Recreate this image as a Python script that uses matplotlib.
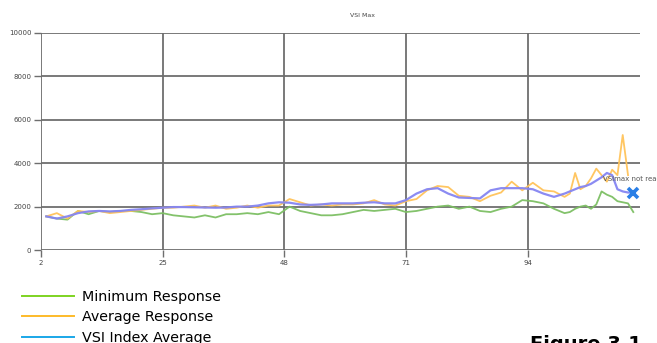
import numpy as np
import matplotlib
matplotlib.use("Agg")
import matplotlib.pyplot as plt
from matplotlib.lines import Line2D

# ---- data ----
sessions = [3, 5, 7, 9, 11, 13, 15, 17, 19, 21, 23, 25, 27, 29, 31, 33, 35, 37, 39, 41,
            43, 45, 47, 49, 51, 53, 55, 57, 59, 61, 63, 65, 67, 69, 71, 73, 75, 77, 79, 81,
            83, 85, 87, 89, 91, 93, 95, 97, 99, 101, 102, 103, 104, 105, 106, 107, 108,
            109, 110, 111, 112, 113, 114]

minimum_response = [1550, 1450, 1400, 1800, 1650, 1800, 1750, 1800, 1800, 1750, 1650, 1700,
                    1600, 1550, 1500, 1600, 1500, 1650, 1650, 1700, 1650, 1750, 1650, 2000,
                    1800, 1700, 1600, 1600, 1650, 1750, 1850, 1800, 1850, 1900, 1750, 1800,
                    1900, 2000, 2050, 1900, 2000, 1800, 1750, 1900, 2000, 2300, 2250, 2150,
                    1900, 1700, 1750, 1900, 2000, 2050, 1900, 2100, 2700, 2550, 2450, 2250,
                    2200, 2150, 1750]

average_response = [1550, 1700, 1450, 1800, 1750, 1800, 1700, 1750, 1800, 1850, 1900, 1950,
                    1950, 2000, 2050, 1950, 2050, 1900, 1950, 2050, 1950, 2050, 2050, 2350,
                    2200, 2050, 2100, 2050, 2100, 2100, 2150, 2300, 2100, 2050, 2250, 2350,
                    2750, 2950, 2900, 2500, 2450, 2250, 2500, 2650, 3150, 2750, 3100, 2750,
                    2700, 2450, 2600, 3550, 2800, 2950, 3300, 3750, 3450, 3150, 3700, 3450,
                    5300, 3450, np.nan]

vsi_index_average = [1550, 1450, 1550, 1700, 1780, 1800, 1780, 1800, 1850, 1880, 1920, 1950,
                     1980, 1980, 1970, 1960, 1950, 1960, 2000, 2000, 2050, 2150, 2200, 2180,
                     2100, 2080, 2100, 2150, 2150, 2150, 2180, 2200, 2150, 2150, 2300, 2600,
                     2800, 2850, 2600, 2420, 2400, 2380, 2750, 2850, 2850, 2850, 2800, 2600,
                     2450, 2600, 2700, 2800, 2900, 2950, 3050, 3200, 3350, 3550, 3450, 2800,
                     2700, 2650, 2650]

vsimax_point = (114, 2650)
x_ticks = [2, 25, 48, 71, 94]
y_ticks = [0, 2000, 4000, 6000, 8000, 10000]
legend_labels = ["Minimum Response", "Average Response", "VSI Index Average"]

# ---- figure ----
fig = plt.figure(figsize=(6.57, 3.43), dpi=100)
ax = fig.add_axes([0.0624, 0.271, 0.912, 0.633])

ax.plot(sessions, minimum_response, color="#7cbf63", lw=1.3, alpha=0.95)
ax.plot(sessions, average_response, color="#ffc35a", lw=1.3, alpha=0.95)
ax.plot(sessions, vsi_index_average, color="#8585f2", lw=1.6, alpha=0.95)
ax.plot([vsimax_point[0]], [vsimax_point[1]], marker="x", color="#2a7fe6",
        markersize=7, markeredgewidth=2.6, linestyle="none")
ax.text(108.3, 3250, "VSImax not reached", fontsize=5, color="#555555",
        ha="left", va="center", clip_on=False)

ax.set_xlim(2, 115.3)
ax.set_ylim(0, 10000)
ax.set_xticks(x_ticks)
ax.set_yticks(y_ticks)
ax.set_xticklabels([str(v) for v in x_ticks])
ax.set_yticklabels([str(v) for v in y_ticks])
for s in ax.spines.values():
    s.set_visible(False)
ax.grid(True, color="#6e6e6e", lw=1.3)
ax.set_axisbelow(True)
ax.tick_params(axis="both", length=5, width=1.0, color="#6e6e6e",
               labelsize=5, labelcolor="#444444", pad=2)

fig.text(0.551, 0.955, "VSI Max", fontsize=4.5, color="#444444", ha="center", va="center")

handles = [Line2D([], [], color="#7ed321", lw=1.4),
           Line2D([], [], color="#fdbb2a", lw=1.4),
           Line2D([], [], color="#1aa7e8", lw=1.4)]
fig.legend(handles, legend_labels, loc="upper left", bbox_to_anchor=(0.034, 0.155),
           frameon=False, fontsize=10.3, handlelength=3.6, handletextpad=0.6,
           labelspacing=0.45, borderpad=0, borderaxespad=0)

fig.text(0.806, 0.022, "Figure 3.1", fontsize=14, fontweight="bold", ha="left", va="top")

fig.savefig("out.png", dpi=100)
